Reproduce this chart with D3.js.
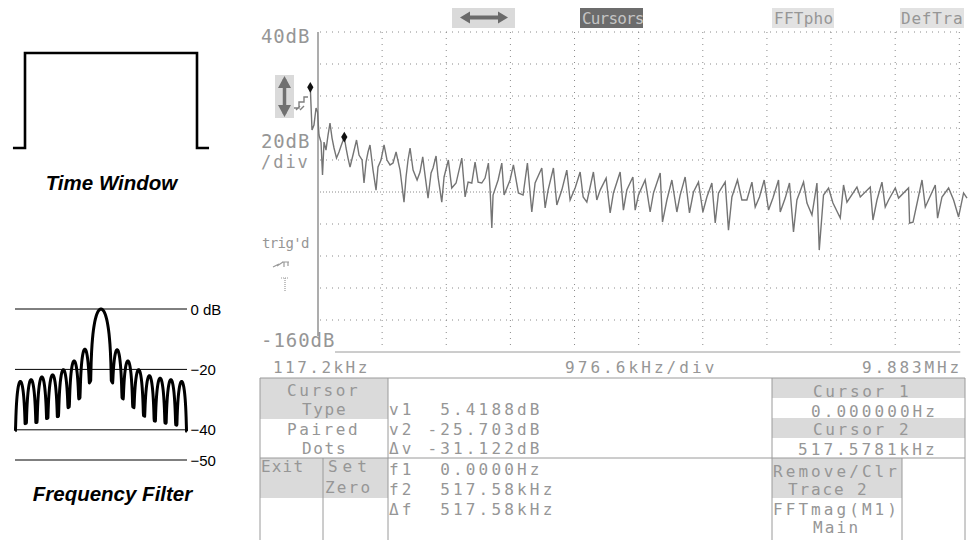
<!DOCTYPE html>
<html><head><meta charset="utf-8">
<script src="https://cdn.jsdelivr.net/npm/d3@7"></script>
<style>body{margin:0;background:#fff}svg{display:block}text{white-space:pre}</style>
</head><body>
<svg id="c" width="974" height="540"></svg>
<script>
// ---------- data ----------
const freqStartKHz = 117.2, freqEndKHz = 9882.8, freqDivKHz = 976.6;
const dbTop = 40, dbBottom = -160, dbPerDiv = 20;
const dbGridTicks = [40, 20, 0, -20, -40, -60, -80, -100, -120, -140];
const cursorFreqKHz = [0, 517.58];
const cursorDb = [5.4188, -25.703];

const traceFreqKHz = [
  0, 26, 56, 87, 110, 132, 163, 186, 209, 239,
  270, 300, 331, 361, 399, 437, 468, 517.6, 544, 574,
  605, 650, 704, 742, 788, 818, 849, 879, 909, 955,
  1001, 1031, 1077, 1123, 1168, 1214, 1260, 1306, 1367, 1427,
  1458, 1488, 1519, 1565, 1626, 1671, 1712, 1747, 1793, 1839,
  1869, 1915, 1945, 2002, 2037, 2102, 2154, 2220, 2307, 2357,
  2403, 2459, 2509, 2555, 2611, 2661, 2712, 2738, 2764, 2783,
  2860, 2916, 2951, 3042, 3093, 3169, 3240, 3306, 3373, 3423,
  3525, 3576, 3621, 3702, 3754, 3830, 3906, 3956, 4033, 4109,
  4155, 4211, 4311, 4363, 4414, 4505, 4566, 4616, 4718, 4768,
  4820, 4912, 4947, 4997, 5099, 5175, 5226, 5328, 5363, 5430,
  5506, 5582, 5632, 5708, 5774, 5835, 5911, 5978, 6039, 6115,
  6166, 6216, 6318, 6368, 6420, 6505, 6572, 6648, 6725, 6775,
  6840, 6912, 6978, 7045, 7130, 7156, 7232, 7297, 7358, 7410,
  7511, 7563, 7639, 7715, 7750, 7815, 7892, 7959, 8070, 8120,
  8172, 8324, 8375, 8527, 8568, 8629, 8705, 8755, 8806, 8908,
  8958, 9110, 9126, 9178, 9315, 9365, 9517, 9552, 9619, 9720,
  9796, 9872, 9948, 10000
];
const traceDb = [
  5.4, -21.3, -18.1, -7.5, -10, -24.4, -28.8, -49.4, -28.8, -33.8,
  -24.4, -16.9, -26.3, -32.5, -38.8, -35, -31.3, -25.7, -32.5, -38.8,
  -44.4, -36.9, -27.5, -36.9, -40, -54.4, -41.3, -35, -30.6, -46.3,
  -58.8, -44.4, -40, -30.6, -40, -43.1, -41.9, -35, -46.3, -66.3,
  -50.6, -40, -32.5, -46.3, -52.5, -47.5, -38.1, -49.4, -63.8, -48.1,
  -45, -37.5, -50.6, -66.3, -50.6, -40, -57.5, -54.4, -38.8, -63.1,
  -53.8, -54.4, -41.3, -53.8, -54.4, -51.3, -41.9, -58.8, -82.5, -61.9,
  -52.5, -41.9, -61.9, -52.5, -43.1, -60.6, -61.9, -41.9, -72.5, -54.4,
  -45, -70, -58.8, -45, -68.1, -58.8, -46.3, -65, -57.5, -47.5,
  -63.1, -66.3, -47.5, -65, -58.8, -51.3, -73.1, -60.6, -47.5, -71.3,
  -58.8, -50.6, -71.3, -61.9, -52.5, -72.5, -60.6, -48.1, -78.8, -65,
  -52.5, -72.5, -61.9, -50.6, -73.1, -60, -53.8, -72.5, -63.1, -54.4,
  -79.4, -60.6, -53.8, -83.8, -63.1, -52.5, -65, -65, -53.8, -69.4,
  -63.1, -52.5, -71.3, -63.8, -52.5, -72.5, -63.8, -54.4, -85, -65,
  -53.8, -66.9, -74.4, -54.4, -96.3, -61.9, -57.5, -66.9, -76.3, -55.6,
  -66.3, -56.9, -63.1, -56.9, -77.5, -65, -53.8, -69.4, -65, -57.5,
  -63.8, -57.5, -79.4, -78.8, -52.5, -69.4, -55.6, -76.3, -63.1, -57.5,
  -65, -75.6, -60.6, -63.8
];

// readouts
const menuTop = ["↔", "Cursors", "FFTpho", "DefTra"];
const readV = ["v1  5.4188dB", "v2 -25.703dB", "Δv -31.122dB"];
const readF = ["f1  0.0000Hz", "f2  517.58kHz", "Δf  517.58kHz"];
const cursorMenu = ["Cursor", "Type", "Paired", "Dots"];
const cursorVals = ["Cursor 1", "0.000000Hz", "Cursor 2", "517.5781kHz"];
const traceMenu = ["Remove/Clr", "Trace 2", "FFTmag(M1)", "Main"];

// left illustrations
const timeWindowT = [-1.14, -1, -1, 1, 1, 1.14];
const timeWindowA = [0, 0, 1, 1, 0, 0];
const filterNullBin = [-8, -7, -6, -5, -4, -3, -2, -1, 1, 2, 3, 4, 5, 6, 7, 8];
const filterNullDb = [-40.4, -37.8, -37.6, -36.2, -35.6, -32.5, -29.6, -24, -24, -29.6, -32.5, -35.4, -37.1, -37.8, -38.4, -40.6];
const filterPeakDb = [-24, -23.4, -22.5, -21.8, -20.1, -17.2, -13.3, 0, -13.5, -17.2, -20.1, -22.1, -22.9, -23.4, -24];
const filterRefDb = [0, -20, -40, -50];
const filterRefLabels = ["0 dB", "\u221220", "\u221240", "\u221250"];

// ---------- drawing ----------
const svg = d3.select("#c");
const TXT = "#969696", LINE = "#9a9a9a", HALF = "#dadada";
function mono(str, x0, yb, fs, cw, fill) {
  return svg.append("text").attr("x", x0).attr("y", yb)
    .attr("font-family", "DejaVu Sans Mono").attr("font-size", fs)
    .attr("letter-spacing", (cw - 0.602 * fs).toFixed(2))
    .attr("fill", fill || TXT).text(str);
}
function line(x1, y1, x2, y2, col, w, dash) {
  const l = svg.append("line").attr("x1", x1).attr("y1", y1).attr("x2", x2).attr("y2", y2)
    .attr("stroke", col).attr("stroke-width", w);
  if (dash) l.attr("stroke-dasharray", dash);
  return l;
}
function rect(x, y, w, h, fill) {
  svg.append("rect").attr("x", x).attr("y", y).attr("width", w).attr("height", h).attr("fill", fill);
}

// ---- scope scales
const x = d3.scaleLinear().domain([freqStartKHz, freqEndKHz]).range([318, 959.3]);
const y = d3.scaleLinear().domain([dbBottom, dbTop]).range([352, 32]);
const vTicks = d3.range(1, 11).map(k => freqStartKHz + k * freqDivKHz);

// grid
dbGridTicks.forEach(d => {
  line(x(freqStartKHz) + 2, y(d), x(freqEndKHz), y(d), "#8a8a8a", 1, d === -60 ? "1,2" : "1,5");
});
vTicks.forEach(f => line(x(f), y(dbTop), x(f), y(dbBottom) - 4, "#8a8a8a", 1, "1,5"));
line(318, 32, 318, 336, "#8a8a8a", 1.4);
line(335, y(dbBottom), x(freqEndKHz) + 1, y(dbBottom), "#9a9a9a", 1);

// trace
const tr = traceFreqKHz.map((f, i) => [f, traceDb[i]]);
svg.append("path").datum(tr)
  .attr("d", d3.line().x(d => x(d[0])).y(d => y(d[1])))
  .attr("fill", "none").attr("stroke", "#747474").attr("stroke-width", 1.4)
  .attr("stroke-linejoin", "miter");
// cursors
cursorFreqKHz.forEach((f, i) => {
  svg.append("path").attr("d", d3.symbol(d3.symbolDiamond, 34)())
    .attr("transform", `translate(${x(f)},${y(cursorDb[i])})`).attr("fill", "#111");
});

// left labels of scope
mono("40dB", 261, 43, 19, 12.3);
mono("20dB", 261, 148, 19, 12.3);
mono("/div", 261, 168, 17, 12.2);
mono("trig'd", 262, 248, 14, 7.8);
mono("-160dB", 261, 347, 19, 12.4);
mono("117.2kHz", 273, 373, 16, 12.1);
mono("976.6kHz/div", 565, 373, 16, 12.7);
mono("9.883MHz", 862, 373, 16, 12.5);

// up-down arrow icon
rect(275, 75, 19, 43, HALF);
svg.append("path").attr("d", "M284.5,79 L284.5,114").attr("stroke", "#707070").attr("stroke-width", 3.5);
svg.append("path").attr("d", "M284.5,76 L278,88 L291,88 Z M284.5,117 L278,105 L291,105 Z").attr("fill", "#707070");
svg.append("path").attr("d", "M294,108 L299,108 L299,102 L304,102 L304,97 L308,97 M296,110 L300,106 M300,110 L304,106")
  .attr("fill", "none").attr("stroke", "#808080").attr("stroke-width", 1.4);
// trig icons
svg.append("path").attr("d", "M273,267 L279,264 M277,266 L283,262 M282,262 L289,262 M284,262 L284,267 M288,262 L288,266")
  .attr("fill", "none").attr("stroke", "#9a9a9a").attr("stroke-width", 1.2);
line(281, 278, 289, 278, "#9a9a9a", 1.2, "1,1");
line(285, 278, 285, 291, "#9a9a9a", 1.2, "1,1");

// top menu
rect(452, 8, 63, 20, HALF);
svg.append("path").attr("d", "M466,17.5 L500,17.5").attr("stroke", "#6a6a6a").attr("stroke-width", 4);
svg.append("path").attr("d", "M460,17.5 L470,11.5 L470,23.5 Z M508,17.5 L498,11.5 L498,23.5 Z").attr("fill", "#6a6a6a");
rect(580, 8, 63, 20, "#6c6c6c");
mono(menuTop[1], 582, 24, 16, 8.8, "#c4c4c4");
rect(772, 8, 62, 20, "#e2e2e2");
mono(menuTop[2], 774, 24, 16, 9.9);
rect(900, 8, 64, 20, "#e2e2e2");
mono(menuTop[3], 901, 24, 16, 10.4);

// bottom panel
const BL = 260, BR = 965, BT = 378, BM = 458;
rect(BL, BT, 128, 41, HALF);
rect(BL, BM, 63, 40, HALF);
rect(323, BM, 65, 40, HALF);
rect(772, BT, BR - 772, 20, HALF);
rect(772, 418, BR - 772, 20, HALF);
rect(772, BM, 130, 40, HALF);
line(BL, BT, BR, BT, LINE, 1);
line(BL, BM, BR, BM, LINE, 1);
[BL, 388, 772, BR].forEach(xx => line(xx, BT, xx, 540, LINE, 1));
[323, 902].forEach(xx => line(xx, BM, xx, 540, LINE, 1));

const FS = 16;
mono(cursorMenu[0], 287, 396, FS, 12.2);
mono(cursorMenu[1], 302, 415, FS, 11.3);
mono(cursorMenu[2], 287, 435, FS, 12.2);
mono(cursorMenu[3], 302, 454, FS, 11.3);
readV.forEach((s, i) => mono(s, 389, 415 + i * 19.5, FS, 12.8));
readF.forEach((s, i) => mono(s, 389, 475 + i * 20, FS, 12.8));
mono("Exit", 261, 472, FS, 10.8);
mono("Set", 328, 472, FS, 14.6);
mono("Zero", 325, 493, FS, 11.8);
mono(cursorVals[0], 813, 397, FS, 12.3);
mono(cursorVals[1], 811, 417, FS, 12.7);
mono(cursorVals[2], 813, 435, FS, 12.3);
mono(cursorVals[3], 798, 455, FS, 12.7);
mono(traceMenu[0], 773, 477, FS, 12.7);
mono(traceMenu[1], 788, 495, FS, 11.5);
mono(traceMenu[2], 773, 515, FS, 12.7);
mono(traceMenu[3], 813, 533, FS, 11.8);

// ---- Time window illustration
const tx = d3.scaleLinear().domain([-1, 1]).range([25, 197]);
const ty = d3.scaleLinear().domain([0, 1]).range([148, 53]);
svg.append("path").datum(timeWindowT.map((t, i) => [t, timeWindowA[i]]))
  .attr("d", d3.line().x(d => tx(d[0])).y(d => ty(d[1])))
  .attr("fill", "none").attr("stroke", "#000").attr("stroke-width", 2.6).attr("stroke-linejoin", "miter");
svg.append("text").attr("x", 111.5).attr("y", 189.5).attr("text-anchor", "middle")
  .attr("font-family", "Liberation Sans, Arial, sans-serif").attr("font-weight", "bold").attr("font-style", "italic")
  .attr("font-size", 20.5).attr("fill", "#000").text("Time Window");

// ---- Frequency filter illustration
const fx = d3.scaleLinear().domain([-8, 8]).range([15, 187]);
const fy = d3.scaleLinear().domain([0, -50]).range([309, 460]);
filterRefDb.forEach((d, i) => {
  line(15, fy(d), 187, fy(d), "#000", 1);
  svg.append("text").attr("x", 190.5).attr("y", fy(d) + 5.5)
    .attr("font-family", "Liberation Sans, Arial, sans-serif").attr("font-size", 15)
    .attr("fill", "#000").text(filterRefLabels[i]);
});
const lobePts = [];
filterPeakDb.forEach((pk, i) => {
  const a = filterNullBin[i], b = filterNullBin[i + 1];
  const n = 48;
  for (let k = (i === 0 ? 0 : 1); k <= n; k++) {
    const t = k / n;
    const s = Math.max(Math.sin(Math.PI * t), 1e-9);
    const floor = filterNullDb[i] + (filterNullDb[i + 1] - filterNullDb[i]) * t;
    lobePts.push([a + (b - a) * t, Math.max(pk + 20 * Math.log10(s), floor)]);
  }
});
svg.append("path").datum(lobePts)
  .attr("d", d3.line().x(d => fx(d[0])).y(d => fy(d[1])))
  .attr("fill", "none").attr("stroke", "#000").attr("stroke-width", 3).attr("stroke-linejoin", "round");
svg.append("text").attr("x", 112.5).attr("y", 501).attr("text-anchor", "middle")
  .attr("font-family", "Liberation Sans, Arial, sans-serif").attr("font-weight", "bold").attr("font-style", "italic")
  .attr("font-size", 20.5).attr("fill", "#000").text("Frequency Filter");
</script>
</body></html>
